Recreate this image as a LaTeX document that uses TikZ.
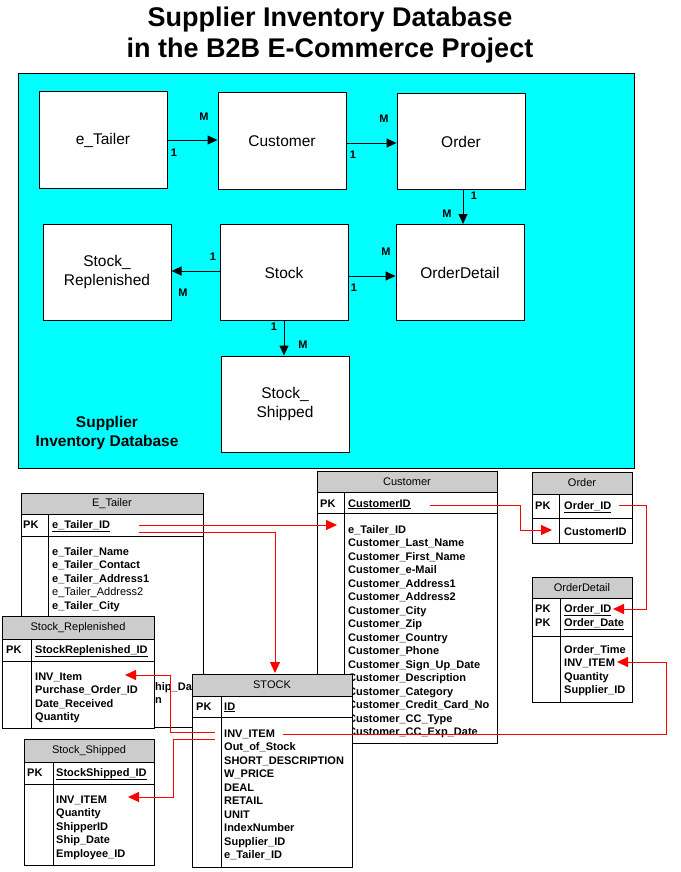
\documentclass[tikz,border=0pt]{standalone}
\usepackage{fontspec}
\setmainfont{Liberation Sans}
\usetikzlibrary{arrows.meta}
\definecolor{cyanbg}{RGB}{0,255,255}
\definecolor{hdrgray}{RGB}{204,204,204}
\definecolor{fkred}{RGB}{255,0,0}
\newcommand\dbtable[7]{%
  \filldraw[fill=white,tbl] (#1,#2) rectangle (#3,#4);
  \filldraw[fill=hdrgray,tbl] (#1,#2) rectangle (#3,#5);
  \draw[tbl] (#1,#6) -- (#3,#6) (#7,#5) -- (#7,#4);
}
\begin{document}
\begin{tikzpicture}[x=1pt,y=-1pt,
  erbox/.style={draw=black, fill=white, line width=1pt, minimum width=128pt, minimum height=96pt, inner sep=0pt, align=center, font=\fontsize{15.5}{18.5}\selectfont},
  card/.style={inner sep=0pt, font=\bfseries\fontsize{11}{13}\selectfont},
  erarrow/.style={draw=black, line width=1pt, -{Triangle[length=10pt,width=9pt]}},
  fk/.style={draw=fkred, line width=1pt, -{Triangle[length=11pt,width=10pt]}},
  tbl/.style={draw=black, line width=1pt},
  hdrtxt/.style={inner sep=0pt, font=\fontsize{11}{13}\selectfont},
  fld/.style={anchor=base west, inner sep=0pt, font=\bfseries\fontsize{11}{13}\selectfont},
  fldn/.style={anchor=base west, inner sep=0pt, font=\fontsize{11}{13}\selectfont},
  ttl/.style={anchor=base, inner sep=0pt, font=\bfseries\fontsize{27}{32}\selectfont},
  capt/.style={inner sep=0pt, align=center, font=\bfseries\fontsize{15.5}{19}\selectfont}
]
\useasboundingbox (0,0) rectangle (680,872);
\fill[white] (0,0) rectangle (680,872);

% title
\node[ttl] (t1) at (330,27) {Supplier Inventory Database};
\node[ttl] (t2) at (330,58) {in the B2B E-Commerce Project};

% ER overview
\draw[fill=cyanbg, line width=1pt] (18,74) rectangle (634,468);
\node[erbox] (eT) at (103,140) {e\_Tailer};
\node[erbox] (cu) at (282,141) {Customer};
\node[erbox] (od) at (461,141.5) {Order};
\node[erbox] (sr) at (107,272) {Stock\_\\Replenished};
\node[erbox] (st) at (284,272.5) {Stock};
\node[erbox] (odd) at (460,272.5) {OrderDetail};
\node[erbox] (ss) at (285,404) {Stock\_\\Shipped};
\node[capt] (cap) at (107,433) {Supplier\\Inventory Database};

\draw[erarrow] (eT.east) -- (eT.east -| cu.west);
\draw[erarrow] ([yshift=-2pt]cu.east) -- ([yshift=-2pt]cu.east -| od.west);
\draw[erarrow] ([xshift=2pt]od.south) -- ([xshift=2pt]od.south |- odd.north);
\draw[erarrow] ([yshift=1.5pt]st.west) -- ([yshift=1.5pt]st.west -| sr.east);
\draw[erarrow] ([yshift=-3.5pt]st.east) -- ([yshift=-3.5pt]st.east -| odd.west);
\draw[erarrow] (st.south) -- (st.south |- ss.north);

\node[card] (c1) at (204,117) {M};
\node[card] (c2) at (174,153) {1};
\node[card] (c3) at (384,119) {M};
\node[card] (c4) at (353,155) {1};
\node[card] (c5) at (474,196) {1};
\node[card] (c6) at (447,214) {M};
\node[card] (c7) at (213,257) {1};
\node[card] (c8) at (183,293) {M};
\node[card] (c9) at (386,252) {M};
\node[card] (c10) at (354,288) {1};
\node[card] (c11) at (274,327) {1};
\node[card] (c12) at (303,345) {M};

% E_Tailer table
\dbtable{21}{493}{203}{727}{514}{536}{48}
\node[hdrtxt] (eth) at (112,503.5) {E\_Tailer};
\node[fld] (etpk) at (23,528) {PK};
\node[fld] (etid) at (52,528) {\underline{e\_Tailer\_ID}};
\node[fld] (et1) at (52,555) {e\_Tailer\_Name};
\node[fld] (et2) at (52,568.5) {e\_Tailer\_Contact};
\node[fld] (et3) at (52,582) {e\_Tailer\_Address1};
\node[fldn] (et4) at (52,595.5) {e\_Tailer\_Address2};
\node[fld] (et5) at (52,609) {e\_Tailer\_City};
\node[fld] (et6) at (155,690) {hip\_Date};
\node[fld] (et7) at (155,703.5) {n};

% Stock_Replenished table
\dbtable{2}{616}{154.5}{728}{639}{661}{31}
\node[hdrtxt] (srh) at (78,627.5) {Stock\_Replenished};
\node[fld] (srpk) at (6,653) {PK};
\node[fld] (srid) at (35,653) {\underline{StockReplenished\_ID}};
\node[fld] (sr1) at (35,680) {INV\_Item};
\node[fld] (sr2) at (35,693.5) {Purchase\_Order\_ID};
\node[fld] (sr3) at (35,707) {Date\_Received};
\node[fld] (sr4) at (35,720.5) {Quantity};

% Customer table
\dbtable{317}{471}{497}{743}{492}{513}{344}
\node[hdrtxt] (cuh) at (407,481.5) {Customer};
\node[fld] (cupk) at (320,507) {PK};
\node[fld] (cuid) at (348,507) {\underline{CustomerID}};
\foreach \t [count=\i from 0] in {e\_Tailer\_ID, Customer\_Last\_Name, Customer\_First\_Name, Customer\_e-Mail, Customer\_Address1, Customer\_Address2, Customer\_City, Customer\_Zip, Customer\_Country, Customer\_Phone, Customer\_Sign\_Up\_Date, Customer\_Description, Customer\_Category, Customer\_Credit\_Card\_No, Customer\_CC\_Type, Customer\_CC\_Exp\_Date}
  \node[fld] (cu\i) at (348,{533+13.5*\i}) {\t};

% Order table
\dbtable{532}{472}{632}{543}{494}{518}{559}
\node[hdrtxt] (orh) at (582,482.5) {Order};
\node[fld] (orpk) at (535,509) {PK};
\node[fld] (orid) at (564,509) {\underline{Order\_ID}};
\node[fld] (orcu) at (564,535) {CustomerID};

% OrderDetail table
\dbtable{532}{577}{632}{702}{598}{636}{560}
\node[hdrtxt] (odh) at (582,587.5) {OrderDetail};
\node[fld] (odpk1) at (535,612) {PK};
\node[fld] (odpk2) at (535,626) {PK};
\node[fld] (odid) at (564,612) {\underline{Order\_ID}};
\node[fld] (oddt) at (564,626) {\underline{Order\_Date}};
\node[fld] (od1) at (564,653) {Order\_Time};
\node[fld] (od2) at (564,666.5) {INV\_ITEM};
\node[fld] (od3) at (564,680) {Quantity};
\node[fld] (od4) at (564,693.5) {Supplier\_ID};

% foreign keys (first group)
\coordinate (k1a) at (139,525);
\coordinate (k1b) at (337,525);
\coordinate (k2a) at (139,532);
\coordinate (k2b) at (275,532);
\coordinate (k2c) at (275,673);
\coordinate (k3a) at (430,505);
\coordinate (k3b) at (520,505);
\coordinate (k3c) at (520,530);
\coordinate (k3d) at (552,530);
\coordinate (k4a) at (619,505);
\coordinate (k4b) at (646,505);
\coordinate (k4c) at (646,609);
\coordinate (k4d) at (613,609);
\draw[fk] (k1a) -- (k1b);
\draw[fk] (k2a) -- (k2b) -- (k2c);
\draw[fk] (k3a) -- (k3b) -- (k3c) -- (k3d);
\draw[fk] (k4a) -- (k4b) -- (k4c) -- (k4d);

% STOCK table
\dbtable{192}{674}{352}{867}{696}{717}{221}
\node[hdrtxt] (sth) at (272,685) {STOCK};
\node[fld] (stpk) at (196,710) {PK};
\node[fld] (stid) at (224,710) {\underline{ID}};
\foreach \t [count=\i from 0] in {INV\_ITEM, Out\_of\_Stock, SHORT\_DESCRIPTION, W\_PRICE, DEAL, RETAIL, UNIT, IndexNumber, Supplier\_ID, e\_Tailer\_ID}
  \node[fld] (st\i) at (224,{737+13.5*\i}) {\t};

% Stock_Shipped table
\dbtable{24}{739}{154}{865}{762}{784}{53}
\node[hdrtxt] (ssh) at (89,750.5) {Stock\_Shipped};
\node[fld] (sspk) at (27,776) {PK};
\node[fld] (ssid) at (56,776) {\underline{StockShipped\_ID}};
\foreach \t [count=\i from 0] in {INV\_ITEM, Quantity, ShipperID, Ship\_Date, Employee\_ID}
  \node[fld] (ss\i) at (56,{803+13.5*\i}) {\t};

% foreign keys (second group)
\coordinate (k5a) at (283,734);
\coordinate (k5b) at (666,734);
\coordinate (k5c) at (666,662);
\coordinate (k5d) at (617,662);
\coordinate (k6a) at (215,732);
\coordinate (k6b) at (170,732);
\coordinate (k6c) at (170,675);
\coordinate (k6d) at (125,675);
\coordinate (k7a) at (215,739);
\coordinate (k7b) at (173,739);
\coordinate (k7c) at (173,797);
\coordinate (k7d) at (128,797);
\draw[fk] (k5a) -- (k5b) -- (k5c) -- (k5d);
\draw[fk] (k6a) -- (k6b) -- (k6c) -- (k6d);
\draw[fk] (k7a) -- (k7b) -- (k7c) -- (k7d);
\end{tikzpicture}
\end{document}
